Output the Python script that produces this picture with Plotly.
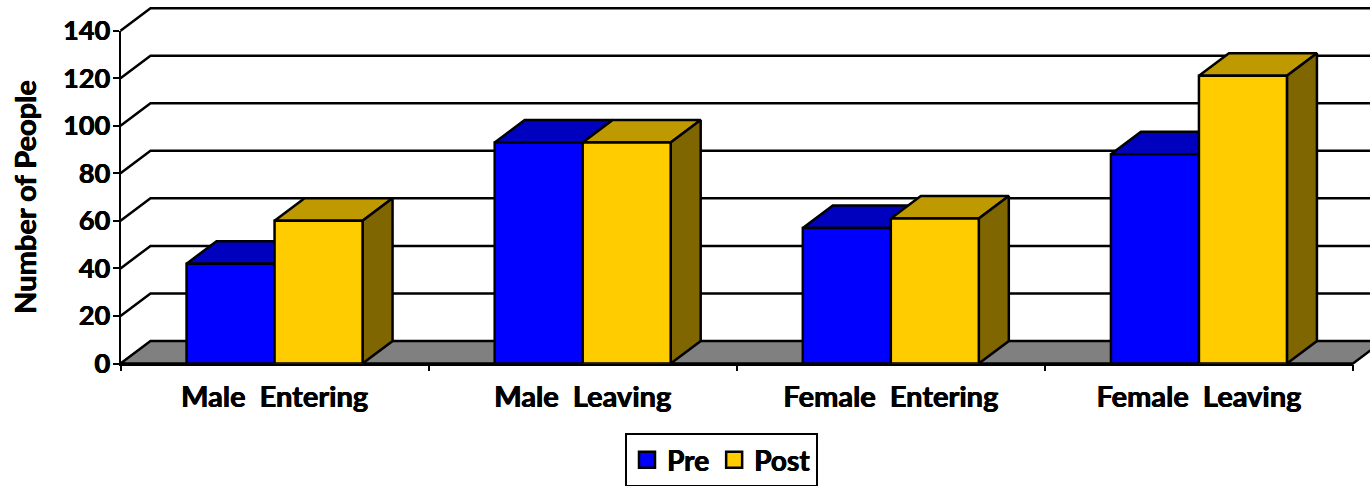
import plotly.graph_objects as go

categories = ["Male \u00a0Entering", "Male \u00a0Leaving", "Female \u00a0Entering", "Female \u00a0Leaving"]
pre_values = [42, 93, 57, 88]
post_values = [60, 93, 61, 121]
y_ticks = [0, 20, 40, 60, 80, 100, 120, 140]

W, H = 1370, 486
PX_LEFT, PX_RIGHT, PX_BOTTOM, PX_TOP = 120.5, 1353.0, 363.5, 30.7
cat_px = (PX_RIGHT - PX_LEFT) / len(categories)
val_px = (PX_BOTTOM - PX_TOP) / 140
DX = 30 / cat_px        # depth expressed in category units
DY = 22.5 / val_px      # depth expressed in value units
BAR_W = 88 / cat_px

FONT = "Lato"
HEAVY = "0.5px 0 0 black, -0.3px 0 0 black"
EDGE = dict(color="black", width=2.5)
PRE, PRE_TOP, PRE_SIDE = "#0000FF", "#0000BF", "#000080"
POST, POST_TOP, POST_SIDE = "#FFCC00", "#BF9900", "#806600"

fig = go.Figure()


def poly(xs, ys, fill=None, width=2.5):
    fig.add_trace(go.Scatter(
        x=xs, y=ys, mode="lines",
        fill="toself" if fill else None, fillcolor=fill,
        line=dict(color="black", width=width),
        hoverinfo="skip", showlegend=False, xaxis="x", yaxis="y"))


# back wall grid lines with their diagonal on the side wall
x0, x1 = -0.5, len(categories) - 0.5
for t in y_ticks[1:]:
    poly([x0, x0 + DX, x1 + DX], [t, t + DY, t + DY])

# floor
poly([x0, x0 + DX, x1 + DX, x1, x0], [0, DY, DY, 0, 0], fill="#808080")


def block(i, val, left, top_col, side_col):
    right = left + BAR_W
    poly([left, left + DX, right + DX, right, left],
         [val, val + DY, val + DY, val, val], fill=top_col)
    poly([right, right + DX, right + DX, right, right],
         [val, val + DY, DY, 0, val], fill=side_col)


for i, (a, b) in enumerate(zip(pre_values, post_values)):
    block(i, a, i - BAR_W, PRE_TOP, PRE_SIDE)
    block(i, b, i, POST_TOP, POST_SIDE)

# front faces on the visible axes
for name, vals, col in (("Pre", pre_values, PRE), ("Post", post_values, POST)):
    fig.add_trace(go.Bar(
        x=categories, y=vals, name=name, marker=dict(color=col, line=EDGE),
        xaxis="x2", yaxis="y2", showlegend=False))

# legend entries
for name, col in (("Pre", PRE), ("Post", POST)):
    fig.add_trace(go.Scatter(
        x=[None], y=[None], name=name, mode="markers",
        marker=dict(symbol="square", size=20, color=col, line=dict(color="black", width=2.5)),
        xaxis="x2", yaxis="y2"))

tick_font = dict(family=FONT, size=27, color="black", weight="bold", shadow=HEAVY)
cat_font = dict(family=FONT, size=29, color="black", weight="bold", shadow=HEAVY)

fig.update_layout(
    width=W, height=H, margin=dict(l=0, r=0, t=0, b=0, autoexpand=False), autosize=False,
    paper_bgcolor="white", plot_bgcolor="rgba(0,0,0,0)",
    font=dict(family=FONT, color="black"),
    barmode="group", bargap=1 - 2 * BAR_W, bargroupgap=0,
    xaxis=dict(domain=[0, 1], visible=False, fixedrange=True,
               range=[x0 - PX_LEFT / cat_px, x0 + (W - PX_LEFT) / cat_px]),
    yaxis=dict(domain=[0, 1], visible=False, fixedrange=True,
               range=[(PX_BOTTOM - H) / val_px, PX_BOTTOM / val_px]),
    xaxis2=dict(domain=[PX_LEFT / W, PX_RIGHT / W], anchor="y2", type="category",
                categoryorder="array", categoryarray=categories,
                range=[x0, x1], tickson="boundaries", ticks="outside", ticklen=6,
                tickwidth=2, tickcolor="black", showline=True, linecolor="black",
                linewidth=1.5, showgrid=False, tickfont=cat_font, ticklabelstandoff=7),
    yaxis2=dict(domain=[(H - PX_BOTTOM) / H, (H - PX_TOP) / H], anchor="x2",
                range=[0, 140], tickvals=y_ticks, ticks="outside", ticklen=6,
                tickwidth=2, tickcolor="black", showline=True, linecolor="black",
                linewidth=2, showgrid=False, zeroline=False, tickfont=tick_font,
                ticklabelstandoff=-3,
                title=dict(text="Number of People",
                           font=dict(family=FONT, size=29, color="black", weight="bold", shadow=HEAVY),
                           standoff=18)),
    legend=dict(orientation="h", x=625 / W, xanchor="left", y=1 - 433 / H, yanchor="top",
                bordercolor="black", borderwidth=2, bgcolor="white",
                font=dict(family=FONT, size=28, color="black", weight="bold", shadow=HEAVY)),
)

fig.write_html("out.html", config={"displayModeBar": False},
               post_script="document.body.style.margin='0';document.documentElement.style.overflow='hidden';")
